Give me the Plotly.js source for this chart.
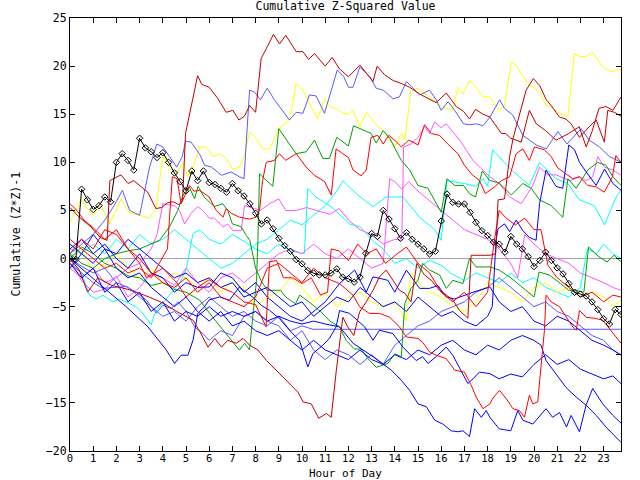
<!DOCTYPE html>
<html>
<head>
<meta charset="utf-8">
<script src="https://cdn.plot.ly/plotly-3.0.1.min.js"></script>
<style>html,body{margin:0;padding:0;background:#fff;}#chart{width:640px;height:480px;}</style>
</head>
<body>
<div id="chart"></div>
<script>
// ---- data: [hour, cumulative value] ----
const blackHours = [0,0.25,0.5,0.75,1,1.25,1.5,1.75,2,2.25,2.5,2.75,3,3.25,3.5,3.75,4,4.25,4.5,4.75,5,5.25,5.5,5.75,6,6.25,6.5,6.75,7,7.25,7.5,7.75,8,8.25,8.5,8.75,9,9.25,9.5,9.75,10,10.25,10.5,10.75,11,11.25,11.5,11.75,12,12.25,12.5,12.75,13,13.25,13.5,13.75,14,14.25,14.5,14.75,15,15.25,15.5,15.75,16,16.25,16.5,16.75,17,17.25,17.5,17.75,18,18.25,18.5,18.75,19,19.25,19.5,19.75,20,20.25,20.5,20.75,21,21.25,21.5,21.75,22,22.25,22.5,22.75,23,23.25,23.5,23.75];
const blackValues = [0,-0.1,7.2,6.1,5.1,5.5,6.4,5.9,10.0,10.9,10.2,9.2,12.5,11.5,11.1,10.5,11.0,10.0,8.9,8.0,7.05,9.1,8.1,9.1,7.9,7.7,7.3,6.9,7.8,7.05,6.5,5.7,4.7,3.6,4.0,3.1,2.1,1.35,0.76,-0.1,-0.55,-1.24,-1.52,-1.7,-1.7,-1.52,-1.07,-1.93,-2.1,-2.45,-1.93,0.55,2.6,2.3,5.0,4.1,3.1,2.1,2.7,2.0,1.5,1.0,0.48,0.76,3.9,6.7,5.84,5.67,5.67,4.8,3.76,2.9,2.4,1.7,1.5,0.66,2.3,1.5,1.0,0.2,-0.83,-0.2,0.66,-0.2,-0.97,-1.6,-2.6,-3.5,-3.7,-3.9,-4.5,-5.3,-6.25,-6.8,-5.3,-5.8];

const darkRedA = [[0,5.3],[0.4,4.3],[0.9,3.3],[1.3,2.2],[1.6,1.9],[1.72,8.1],[2.2,8.7],[2.5,7.8],[2.75,8.1],[3.0,7.6],[3.35,6.9],[3.7,5.2],[3.95,5.3],[4.2,5.8],[4.45,5.9],[4.7,5.6],[4.85,6.0],[4.98,13.0],[5.2,15.4],[5.5,19.0],[5.68,18.1],[6.0,17.8],[6.38,16.6],[6.73,15.2],[7.02,15.4],[7.28,14.4],[7.52,14.8],[7.74,15.9],[8.0,15.2],[8.24,20.8],[8.46,21.8],[8.77,23.3],[9.03,22.3],[9.3,23.2],[9.75,21.5],[10.04,21.5],[10.28,20.7],[10.54,21.3],[11.0,20.0],[11.3,20.9],[11.62,19.7],[12.0,18.9],[12.5,20.1],[13.06,18.4],[13.24,20.0],[13.56,19.1],[13.93,18.5],[14.28,18.2],[14.64,17.8],[15.07,17.1],[15.78,16.2],[16.22,17.2],[16.65,15.8],[16.96,15.3],[17.22,14.5],[17.48,15.5],[17.8,15.0],[18.1,14.7],[18.3,14.0],[18.6,13.0],[18.78,13.0],[19.0,12.5],[19.45,12.1],[19.8,15.4],[20.1,14.0],[20.5,13.3],[20.95,12.3],[21.5,13.0],[21.95,13.7],[22.25,11.6],[22.5,13.2],[22.8,15.6],[23.1,15.8],[23.4,15.4],[23.75,16.8]];
const darkRedB = [[0,0],[0.4,-1.2],[0.76,-3.5],[1.2,-2.0],[1.8,-2.8],[2.5,-3.2],[3.2,-3.8],[4.0,-4.6],[4.6,-5.5],[5.3,-6.4],[5.6,-7.6],[5.95,-9.2],[6.24,-8.3],[6.53,-9.2],[6.8,-8.5],[7.17,-8.8],[7.46,-8.3],[7.74,-9.0],[8.1,-9.5],[8.47,-10.6],[9.05,-12.0],[9.48,-13.0],[9.83,-13.9],[10.05,-14.9],[10.4,-15.1],[10.72,-16.6],[11.05,-16.1],[11.26,-16.5],[11.48,-11.6],[11.76,-6.1],[11.97,-7.1],[12.23,-8.0],[12.48,-5.55],[12.77,-4.5],[13.06,-3.3],[13.34,-1.9],[13.63,-1.2],[13.92,-2.26],[14.2,-3.3],[14.43,-3.6],[14.7,-4.5],[14.95,-0.5],[15.28,-1.7],[15.57,-2.26],[15.93,-3.3],[16.22,-3.8],[16.5,-4.3],[16.79,-5.4],[17.15,-6.2],[17.29,0.34],[17.5,0.34],[18.1,0.34],[18.35,0.5],[18.45,6.1],[18.73,6.2],[18.95,10.6],[19.1,12.5],[19.66,17.5],[19.97,18.7],[20.24,18.0],[20.53,16.5],[20.74,15.9],[21.1,14.7],[21.38,14.5],[21.6,14.0],[21.96,12.6],[22.38,13.7],[22.68,14.4],[23.03,12.1],[23.18,15.4],[23.46,15.2],[23.75,14.8]];
const periwinkleA = [[0,0.5],[0.5,1.5],[1.0,2.5],[1.5,4.0],[1.9,5.5],[2.26,7.1],[2.57,5.0],[3.0,4.5],[3.2,6.75],[3.43,9.5],[3.74,11.9],[4.0,11.6],[4.29,10.6],[4.6,9.5],[4.84,10.6],[4.98,12.2],[5.22,12.1],[5.6,10.8],[5.8,9.7],[6.1,9.5],[6.53,8.65],[6.95,9.0],[7.3,8.5],[7.5,8.3],[7.74,17.5],[7.95,17.3],[8.21,16.5],[8.5,17.7],[8.81,16.5],[9.17,15.4],[9.46,14.4],[9.75,15.2],[10.04,15.1],[10.32,17.0],[10.61,16.9],[10.97,15.1],[11.52,19.6],[11.8,18.9],[12.0,17.8],[12.2,17.8],[12.49,19.9],[12.92,18.9],[13.2,17.7],[13.5,17.5],[13.93,16.6],[14.2,16.8],[14.5,18.4],[14.71,17.9],[15.07,17.0],[15.5,17.5],[15.78,16.5],[16.0,15.4],[16.3,16.3],[16.58,15.4],[16.96,14.0],[17.22,13.9],[17.51,14.0],[17.8,13.8],[18.1,14.7],[18.52,16.5],[18.73,15.6],[19.09,14.9],[19.52,12.8],[20.1,11.8],[20.53,11.4],[21.03,13.2],[21.42,11.9],[22.03,13.5],[22.38,12.3],[22.82,11.6],[23.25,10.6],[23.75,10.0]];
const yellowA = [[0,3.8],[0.48,6.2],[0.69,5.4],[0.98,4.5],[1.35,5.5],[1.7,3.6],[1.92,4.7],[2.2,6.2],[2.57,4.7],[3.0,4.5],[3.43,4.2],[3.71,5.2],[4.0,10.6],[4.26,9.5],[4.58,8.8],[4.87,10.0],[5.08,8.5],[5.29,9.3],[5.58,11.6],[5.87,11.6],[6.16,10.6],[6.45,10.9],[6.73,10.4],[7.02,9.3],[7.3,9.5],[7.52,10.7],[7.74,13.2],[8.02,12.5],[8.31,11.4],[8.6,11.4],[9.0,13.5],[9.47,14.4],[9.75,18.2],[10.04,17.5],[10.32,16.1],[10.68,14.5],[10.97,16.6],[11.18,15.8],[11.47,15.6],[11.76,15.1],[12.0,15.0],[12.2,15.4],[12.5,13.7],[12.77,15.2],[13.2,13.9],[13.5,13.3],[14.0,11.6],[14.28,13.0],[14.43,12.3],[14.7,17.5],[15.0,17.7],[15.35,17.0],[15.78,16.2],[16.07,15.8],[16.5,15.4],[16.72,17.8],[16.94,17.1],[17.22,18.5],[17.51,17.8],[17.8,16.8],[18.1,16.8],[18.5,15.4],[18.72,15.8],[19.02,20.4],[19.23,20.1],[19.52,19.0],[19.8,18.0],[20.02,17.8],[20.3,17.0],[20.52,15.9],[20.73,15.8],[21.1,15.1],[21.46,14.7],[21.74,21.3],[21.96,21.0],[22.25,21.0],[22.5,21.5],[22.97,19.9],[23.33,19.4],[23.75,19.7]];
const greenA = [[0,0],[0.5,1.2],[1.0,0.5],[1.5,-0.5],[2.0,-1.0],[2.5,-1.8],[3.0,-2.0],[3.5,-2.8],[4.0,-2.5],[4.5,-3.2],[5.0,-3.5],[5.58,-4.3],[6.15,-6.1],[6.6,-7.45],[6.95,-8.5],[7.3,-9.5],[7.53,-8.8],[7.74,-9.5],[7.9,-5.5],[8.04,-2.26],[8.1,1.9],[8.17,8.8],[8.74,7.5],[9.0,13.5],[9.4,12.1],[9.75,10.9],[10.18,11.1],[10.54,12.3],[10.9,10.4],[11.18,10.4],[11.5,12.6],[11.75,12.1],[12.0,11.7],[12.22,13.8],[12.52,13.5],[12.98,13.0],[13.2,12.0],[13.5,13.3],[13.78,12.5],[14.28,10.2],[14.64,9.2],[15.0,7.6],[15.43,7.3],[15.72,6.0],[16.0,4.8],[16.25,8.3],[16.58,7.6],[16.96,7.6],[17.22,6.75],[17.48,6.4],[17.77,9.1],[18.1,8.1],[18.5,7.85],[19.02,6.6],[19.52,7.8],[19.88,7.3],[20.24,6.1],[20.74,5.5],[21.24,4.3],[21.46,8.3],[21.82,7.3],[22.32,9.2],[22.74,10.0],[23.1,9.7],[23.4,8.5],[23.75,7.6]];
const greenB = [[0,0.5],[0.5,-0.5],[1.0,-1.0],[1.5,0.0],[2.0,0.5],[2.5,0.8],[3.0,1.0],[3.5,1.5],[3.86,1.9],[4.29,3.3],[4.65,5.0],[4.87,6.6],[5.15,7.4],[5.37,6.2],[5.52,7.5],[5.78,6.4],[6.22,5.4],[6.58,5.7],[6.8,5.0],[7.0,3.6],[7.38,3.3],[7.6,2.4],[7.75,1.9],[8.0,-1.0],[8.24,-2.3],[8.5,-3.3],[9.07,-3.3],[9.3,-4.0],[9.72,-4.7],[9.9,-3.8],[10.3,-4.5],[10.8,-5.5],[11.2,-6.5],[11.62,-7.1],[11.9,-8.5],[12.26,-9.4],[12.55,-9.4],[12.84,-10.4],[13.2,-11.3],[13.7,-10.9],[14.0,-9.9],[14.28,-10.2],[14.43,-4.7],[14.7,-3.1],[15.0,-2.26],[15.2,-0.5],[15.5,-1.2],[15.93,-1.7],[16.22,-3.1],[16.5,-2.26],[16.94,-2.6],[17.22,0.0],[17.5,-0.87],[18.1,-0.87],[18.5,-1.2],[19.0,-2.0],[19.5,-3.0],[20.0,-4.0],[20.22,-1.4],[20.65,-1.7],[21.15,-2.6],[21.5,-3.3],[21.8,-3.3],[22.15,-3.5],[22.35,1.2],[22.8,0.17],[23.15,-0.35],[23.45,0.34],[23.75,-0.35]];
const redA = [[0,2.0],[0.5,1.0],[1.0,0.0],[1.5,-1.0],[2.0,-0.5],[2.5,-1.5],[3.0,-1.0],[3.5,-2.0],[3.8,-0.7],[4.2,1.0],[4.41,8.5],[4.61,8.3],[4.79,5.7],[5.15,7.6],[5.35,7.0],[5.58,7.1],[6.0,6.4],[6.3,5.0],[6.6,4.3],[6.73,5.2],[6.95,4.7],[7.3,4.3],[7.74,4.1],[8.02,4.3],[8.17,5.0],[8.3,8.1],[8.46,10.0],[8.81,10.2],[9.03,10.9],[9.3,10.2],[9.75,10.9],[10.18,9.5],[10.54,8.65],[10.97,8.0],[11.26,6.6],[11.47,11.4],[11.76,10.9],[12.0,10.5],[12.2,9.2],[12.55,8.6],[12.77,9.2],[12.98,12.6],[13.27,12.8],[13.5,11.9],[13.74,12.8],[14.0,12.3],[14.28,11.6],[14.6,12.3],[14.78,12.1],[15.0,11.8],[15.28,13.9],[15.57,13.0],[15.93,12.8],[16.28,11.9],[16.72,10.9],[17.0,9.7],[17.3,8.8],[17.65,8.1],[17.9,6.75],[18.3,7.45],[18.6,8.1],[18.95,8.5],[19.23,10.9],[19.52,11.4],[19.8,10.2],[20.02,11.6],[20.45,11.3],[20.74,10.6],[21.03,9.4],[21.38,8.8],[21.67,8.3],[21.96,8.5],[22.32,7.6],[22.68,7.45],[23.03,6.9],[23.38,8.5],[23.53,10.7],[23.75,10.0]];
const redB = [[0,0.5],[0.5,2.0],[1.0,1.0],[1.5,3.0],[2.0,2.5],[2.5,1.0],[3.0,0.0],[3.5,-1.5],[4.0,-2.5],[4.5,-3.0],[5.0,-2.0],[5.5,-3.5],[6.0,-2.5],[6.5,-4.0],[7.0,-4.5],[7.5,-5.0],[8.0,-4.0],[8.5,-1.0],[9.0,-0.5],[9.5,-1.5],[10.0,-2.5],[10.5,-1.0],[11.0,-2.0],[11.62,-2.6],[12.2,-3.8],[12.48,-5.0],[12.9,-5.7],[13.34,-5.7],[13.78,-6.1],[14.2,-7.1],[14.5,-8.15],[15.0,-8.3],[15.2,-8.7],[15.5,-9.7],[15.78,-10.05],[16.22,-10.4],[16.58,-11.6],[17.0,-11.8],[17.3,-13.2],[17.51,-14.4],[17.8,-15.6],[18.1,-15.1],[18.22,-14.55],[18.51,-13.7],[18.8,-14.55],[19.09,-15.6],[19.37,-15.8],[19.59,-16.5],[19.8,-14.2],[19.95,-15.1],[20.16,-14.9],[20.3,-11.26],[20.45,-7.45],[20.52,-3.8],[20.74,-4.5],[21.1,-5.0],[21.38,-6.1],[21.67,-7.1],[21.82,-7.45],[21.96,-5.4],[22.25,-6.1],[22.6,-6.2],[22.96,-6.4],[23.32,-7.45],[23.75,-8.8]];
const redC = [[0,5.7],[0.3,5.0],[0.6,4.0],[1.0,3.2],[1.5,2.0],[2.0,3.0],[2.5,1.0],[3.0,-0.5],[3.3,-2.0],[4.0,-1.0],[4.6,-2.5],[5.0,-4.0],[5.5,-3.0],[6.0,-2.2],[6.5,-3.0],[7.0,-3.5],[7.5,-4.5],[8.0,-4.8],[8.45,-7.1],[8.6,-0.35],[8.9,-0.2],[9.2,-2.0],[9.6,-2.0],[10.0,-2.6],[10.4,-2.0],[10.8,-3.8],[11.1,-3.5],[11.26,1.0],[11.6,0.8],[12.0,-0.2],[12.4,1.5],[12.8,0.5],[13.2,1.0],[13.6,-0.5],[14.0,0.3],[14.5,1.2],[15.0,-0.5],[15.5,-1.5],[16.0,-3.5],[16.5,-4.5],[17.0,-3.5],[17.5,-5.0],[18.0,-3.5],[18.3,2.0],[18.5,5.0],[18.8,4.2],[19.2,3.5],[19.6,4.2],[20.0,3.0],[20.3,3.0],[20.6,-0.7],[21.0,-2.0],[21.5,-3.0],[22.0,-4.0],[22.5,-3.5],[23.0,-4.5],[23.4,-3.8],[23.75,-4.0]];
const magentaA = [[0,-1.0],[0.5,-2.0],[1.0,-1.0],[1.5,-2.5],[2.0,-2.0],[2.5,-1.0],[3.0,-0.5],[3.5,1.0],[3.75,2.5],[4.0,5.7],[4.5,5.5],[4.72,5.0],[4.94,3.6],[5.22,4.7],[5.5,5.4],[5.72,5.0],[6.0,4.2],[6.22,4.2],[6.6,3.3],[6.8,3.6],[7.02,2.9],[7.38,2.9],[7.52,5.5],[7.88,5.2],[8.2,5.0],[8.6,5.7],[9.0,6.2],[9.3,5.0],[9.75,5.0],[10.2,5.3],[10.6,5.0],[11.2,4.6],[11.6,5.2],[12.0,4.0],[12.5,3.0],[13.0,2.5],[13.5,1.5],[14.0,2.0],[14.3,1.9],[14.38,11.6],[14.7,11.9],[15.0,12.6],[15.28,13.7],[15.5,13.0],[15.72,14.2],[16.0,13.6],[16.22,14.0],[16.5,13.2],[16.8,12.3],[17.1,11.2],[17.37,10.2],[17.7,9.4],[18.1,8.5],[18.5,7.8],[18.95,6.4],[19.45,5.7],[19.95,7.6],[20.24,9.5],[20.6,8.7],[20.95,8.7],[21.53,8.1],[21.96,8.5],[22.25,8.1],[22.53,8.5],[22.75,10.6],[23.03,9.5],[23.4,9.2],[23.75,8.66]];
const magentaB = [[0,0],[0.5,-2.3],[1.0,-3.5],[1.5,-3.2],[2.0,-1.8],[2.5,-4.0],[3.0,-3.0],[3.5,-1.5],[4.0,-2.0],[4.5,-2.8],[5.0,-1.0],[5.5,-2.5],[6.0,-3.5],[6.5,-2.0],[7.0,-1.5],[7.5,-2.5],[8.0,-1.5],[8.5,-0.5],[9.0,0.5],[9.5,1.0],[10.0,0.5],[10.5,1.5],[11.0,0.5],[11.5,0.0],[12.0,1.0],[12.5,0.0],[13.0,-1.0],[13.5,-0.5],[13.78,8.3],[14.0,8.0],[14.3,7.2],[14.6,8.0],[15.0,7.0],[15.5,6.0],[16.0,5.0],[16.5,4.0],[17.0,3.0],[17.5,2.5],[18.0,2.0],[18.5,1.0],[19.0,-0.5],[19.3,-2.0],[19.6,2.5],[20.0,1.5],[20.5,0.5],[21.0,0.0],[21.5,-0.5],[22.0,-1.5],[22.5,-2.0],[23.0,-2.5],[23.4,-3.0],[23.75,-3.3]];
const cyanA = [[0,0],[0.5,-1.5],[0.84,-3.8],[1.13,-4.2],[1.42,-3.8],[1.7,-4.2],[1.85,-4.5],[2.14,-4.2],[2.42,-4.5],[2.85,-5.0],[3.14,-5.7],[3.5,-6.9],[3.65,-5.7],[3.86,-5.0],[4.29,-3.8],[4.72,-2.6],[5.0,-1.2],[5.3,2.6],[5.6,3.0],[6.0,2.0],[6.5,1.5],[7.0,2.5],[7.5,1.8],[8.0,1.0],[8.5,0.5],[9.0,1.5],[9.5,0.8],[10.1,0.5],[10.25,7.3],[10.6,6.4],[11.25,5.4],[11.78,4.2],[12.05,3.6],[12.5,3.3],[13.0,2.0],[13.5,1.0],[14.0,-0.5],[14.5,0.0],[15.0,-1.0],[15.5,-0.2],[16.0,-0.7],[16.4,-1.5],[17.0,-2.3],[17.5,-1.5],[18.0,-2.0],[18.5,-2.5],[19.0,-1.5],[19.5,-2.5],[20.0,-2.0],[20.5,-3.0],[21.0,-3.5],[21.5,-4.0],[22.0,-3.0],[22.3,1.0],[22.7,0.5],[23.0,1.5],[23.4,0.5],[23.75,0.0]];
const cyanB = [[0,1.0],[0.5,0.5],[1.0,1.5],[1.5,0.5],[2.0,2.0],[2.5,1.0],[3.0,2.5],[3.5,1.5],[4.0,2.0],[4.5,3.0],[5.0,2.0],[5.5,1.0],[6.0,0.0],[6.5,-1.0],[7.0,-0.5],[7.5,0.5],[8.0,1.5],[8.5,2.0],[9.0,3.0],[9.5,4.0],[10.0,3.5],[10.5,4.5],[11.0,5.5],[11.5,7.0],[11.76,8.1],[12.41,6.6],[13.06,5.4],[13.63,6.4],[14.35,6.4],[15.07,4.3],[15.72,3.0],[16.0,1.9],[16.25,8.1],[17.0,7.8],[17.5,7.5],[17.8,8.3],[18.0,7.5],[18.22,11.3],[18.94,9.4],[19.8,7.6],[20.24,10.0],[20.95,8.3],[21.46,7.8],[21.96,6.1],[22.6,5.5],[23.04,3.5],[23.54,6.4],[23.75,7.1]];
const yellowB = [[0,-0.5],[0.5,1.0],[1.0,-1.5],[1.5,-0.5],[2.0,0.5],[2.5,-1.0],[3.0,-2.0],[3.5,-1.0],[4.0,-2.5],[4.5,-1.5],[5.0,-2.0],[5.5,-3.0],[6.0,-2.0],[6.5,-3.5],[7.0,-2.5],[7.5,-3.0],[8.0,-5.0],[8.5,-4.0],[9.0,-3.5],[9.5,-2.0],[10.0,-3.0],[10.5,-4.5],[11.0,-3.5],[11.5,-5.0],[12.0,-4.0],[12.5,-3.5],[13.0,-4.5],[13.5,-5.0],[14.0,-4.5],[14.5,-6.5],[14.7,-1.5],[15.0,-2.5],[15.5,-3.5],[16.0,-4.0],[16.5,-5.0],[17.0,-5.5],[17.5,-4.5],[18.0,-2.5],[18.5,-3.0],[19.0,-3.5],[19.5,-4.5],[20.0,-3.0],[20.5,-2.5],[21.0,-3.5],[21.5,-3.0],[22.0,-4.0],[22.5,-3.5],[23.0,-4.0],[23.4,-5.0],[23.75,-4.3]];
const periwinkleB = [[0,-0.5],[0.5,-1.5],[1.0,-2.5],[1.42,-3.1],[2.42,-2.9],[2.85,-3.5],[3.29,-4.3],[3.72,-5.7],[4.0,-4.85],[4.36,-5.2],[4.65,-4.5],[5.01,-5.5],[5.37,-7.1],[5.73,-7.8],[6.0,-8.5],[6.5,-7.5],[7.0,-8.0],[7.5,-6.0],[8.0,-5.5],[8.5,-6.5],[9.0,-7.0],[9.5,-8.5],[10.0,-7.5],[10.5,-9.5],[11.0,-10.5],[11.5,-9.5],[12.0,-10.0],[12.5,-11.0],[13.0,-10.0],[13.5,-11.0],[14.0,-9.0],[14.5,-8.0],[15.0,-7.0],[15.5,-6.5],[16.0,-5.5],[16.5,-5.0],[17.0,-4.5],[17.5,-3.5],[18.0,-3.0],[18.5,-2.0],[19.0,-3.0],[19.5,-4.0],[20.0,-5.0],[20.5,-4.5],[21.0,-5.5],[21.5,-6.0],[22.0,-7.0],[22.5,-8.0],[23.0,-8.5],[23.4,-9.5],[23.75,-10.0]];
const periwinkleC = [[0,0],[0.5,-0.8],[1.0,-1.5],[1.5,-1.0],[2.0,-2.5],[2.5,-3.0],[3.0,-4.0],[3.5,-5.0],[4.0,-6.0],[4.5,-5.5],[5.0,-6.5],[5.5,-5.0],[6.0,-4.0],[6.5,-5.0],[7.0,-6.0],[7.5,-5.5],[8.0,-6.5],[8.5,-7.0],[9.0,-6.0],[9.5,-7.5],[10.0,-7.0],[10.47,-7.35],[23.75,-7.35]];
const blueA = [[0,0],[0.41,-0.87],[1.42,-2.95],[2.42,-5.0],[3.36,-7.1],[4.15,-9.5],[4.51,-10.9],[4.79,-10.05],[5.08,-10.05],[5.3,-8.5],[5.51,-5.7],[5.8,-5.0],[6.0,-4.3],[6.44,-3.99],[6.87,-4.33],[7.3,-2.95],[7.6,-3.47],[7.95,-4.16],[8.24,-4.85],[8.6,-5.38],[9.03,-6.24],[9.46,-7.45],[9.89,-8.5],[10.25,-11.26],[10.47,-9.88],[10.9,-9.0],[11.18,-8.3],[11.47,-7.1],[11.62,-5.4],[12.05,-5.7],[12.7,-7.1],[13.06,-8.5],[13.34,-7.45],[13.92,-7.8],[14.35,-9.2],[14.92,-10.6],[15.2,-10.2],[15.43,-10.9],[15.78,-10.2],[16.22,-9.2],[16.5,-10.05],[16.86,-11.6],[17.15,-13.0],[17.37,-12.5],[17.65,-11.8],[18.1,-11.96],[18.5,-12.5],[19.0,-12.0],[19.5,-12.3],[20.0,-11.0],[20.5,-10.0],[21.0,-11.0],[21.5,-10.5],[22.0,-11.5],[22.5,-12.0],[23.0,-12.5],[23.4,-12.2],[23.75,-13.0]];
const blueB = [[0,1.0],[0.5,2.0],[1.0,0.5],[1.5,1.5],[2.0,0.0],[2.5,-1.0],[3.0,0.5],[3.5,-1.5],[4.0,-2.0],[4.5,-3.5],[5.0,-2.5],[5.5,-3.0],[6.0,-2.95],[6.5,-1.5],[7.0,-2.0],[7.5,-3.5],[8.0,-2.5],[8.5,-4.0],[9.0,-5.0],[9.5,-6.0],[10.0,-6.5],[10.5,-5.5],[11.0,-4.5],[11.62,-2.6],[12.27,-1.2],[12.77,-3.5],[13.06,-1.9],[13.7,-2.26],[14.0,-3.5],[14.5,-1.2],[15.07,-3.1],[15.5,-3.1],[15.86,-2.8],[16.22,-4.0],[16.58,-4.2],[17.37,-3.5],[18.1,-2.95],[18.5,-4.5],[19.0,-5.5],[19.5,-5.0],[20.0,-6.5],[20.5,-7.0],[21.0,-6.0],[21.5,-6.5],[22.0,-7.5],[22.5,-8.5],[23.0,-9.0],[23.4,-9.5],[23.75,-10.05]];
const blueC = [[0,-0.5],[0.5,-2.0],[1.0,-1.0],[1.5,-3.5],[2.0,-2.5],[2.5,-4.5],[3.0,-3.5],[3.5,-5.5],[4.0,-4.5],[4.5,-6.5],[5.0,-5.5],[5.5,-6.0],[6.0,-5.0],[6.5,-6.0],[7.0,-5.5],[7.5,-6.0],[8.0,-5.5],[8.5,-6.5],[9.0,-6.0],[9.5,-6.5],[10.0,-6.8],[10.5,-6.5],[11.0,-6.8],[11.62,-7.1],[12.2,-8.8],[13.06,-10.2],[13.85,-11.6],[14.28,-12.65],[14.64,-13.7],[15.0,-15.1],[15.36,-15.4],[15.72,-16.8],[16.07,-17.2],[16.43,-17.9],[16.72,-18.0],[16.94,-17.9],[17.22,-18.5],[17.44,-15.6],[17.73,-16.5],[17.94,-15.8],[18.1,-16.5],[18.5,-17.7],[19.0,-17.9],[19.3,-15.8],[19.52,-16.8],[19.95,-17.2],[20.52,-15.6],[20.8,-16.5],[21.1,-16.0],[21.4,-17.5],[21.6,-16.3],[21.96,-18.0],[22.25,-15.2],[22.53,-13.5],[22.96,-15.1],[23.4,-16.3],[23.75,-17.1]];
const blueD = [[0,1.5],[0.5,0.5],[1.0,2.5],[1.5,1.0],[2.0,-1.0],[2.5,-2.0],[3.0,-1.5],[3.5,-3.0],[4.0,-4.0],[4.5,-5.0],[5.0,-4.0],[5.5,-5.5],[6.0,-6.5],[6.5,-5.5],[7.0,-7.0],[7.5,-6.5],[8.0,-7.5],[8.5,-8.0],[9.0,-7.5],[9.5,-8.5],[10.0,-9.5],[10.5,-8.5],[11.0,-9.5],[11.5,-10.0],[12.0,-10.5],[12.5,-9.5],[13.0,-10.5],[13.5,-11.0],[14.0,-10.0],[14.5,-10.5],[15.0,-9.5],[15.5,-10.0],[16.0,-9.0],[16.5,-8.5],[17.0,-9.5],[17.5,-10.0],[18.0,-9.0],[18.5,-9.5],[19.0,-8.5],[19.5,-8.0],[20.0,-8.5],[20.3,-9.0],[20.52,-10.6],[20.95,-12.0],[21.38,-13.4],[21.82,-14.4],[22.25,-15.25],[22.68,-16.3],[23.1,-17.5],[23.75,-19.1]];
const blueE = [[0,-1.0],[0.5,0.5],[1.0,-0.5],[1.5,1.0],[2.0,0.5],[2.5,2.0],[3.0,1.0],[3.5,0.0],[4.0,-1.0],[4.5,-2.0],[5.0,-1.5],[5.5,-2.5],[6.0,-2.0],[6.5,-3.0],[7.0,-2.5],[7.5,-4.0],[8.0,-3.5],[8.5,-3.0],[9.0,-4.0],[9.5,-5.0],[10.0,-4.5],[10.5,-6.0],[11.0,-5.0],[11.5,-4.0],[12.0,-4.5],[12.5,-3.0],[13.0,-4.0],[13.5,-5.0],[14.0,-4.5],[14.5,-5.5],[15.0,-4.0],[15.5,-5.0],[16.0,-6.0],[16.5,-5.5],[17.0,-6.5],[17.5,-7.0],[18.0,-6.0],[18.2,-5.0],[18.37,2.0],[18.45,3.1],[18.73,3.6],[18.95,2.8],[19.23,4.0],[19.52,2.9],[19.8,2.2],[20.09,1.9],[20.24,5.7],[20.52,9.2],[20.95,7.5],[21.24,7.3],[21.5,11.8],[21.75,11.3],[21.96,10.0],[22.25,9.0],[22.68,7.6],[23.04,9.3],[23.4,7.8],[23.75,7.1]];
const zeroRef = [[0,0],[23.75,0]];

const seriesList = [
  {data: zeroRef, color: '#a0a0a0'},
  {data: cyanA, color: '#00ffff'},
  {data: cyanB, color: '#00ffff'},
  {data: yellowB, color: '#ffff00'},
  {data: yellowA, color: '#ffff00'},
  {data: magentaA, color: '#ff55ff'},
  {data: magentaB, color: '#ff55ff'},
  {data: greenA, color: '#00a000'},
  {data: greenB, color: '#00a000'},
  {data: periwinkleA, color: '#5a5aff'},
  {data: periwinkleB, color: '#5a5aff'},
  {data: periwinkleC, color: '#5a5aff'},
  {data: blueA, color: '#0000ff'},
  {data: blueB, color: '#0000ff'},
  {data: blueC, color: '#0000ff'},
  {data: blueD, color: '#0000ff'},
  {data: blueE, color: '#0000ff'},
  {data: redA, color: '#ff0000'},
  {data: redB, color: '#ff0000'},
  {data: redC, color: '#ff0000'},
  {data: darkRedA, color: '#c00000'},
  {data: darkRedB, color: '#c00000'}
];

const traces = seriesList.map(s => ({
  type: 'scatter', mode: 'lines',
  x: s.data.map(p => p[0]), y: s.data.map(p => p[1]),
  line: {color: s.color, width: 1}, hoverinfo: 'skip'
}));
traces.push({
  type: 'scatter', mode: 'lines+markers',
  x: blackHours, y: blackValues,
  line: {color: '#000000', width: 1},
  marker: {symbol: 'diamond-open', size: 5, color: '#000000', line: {width: 1, color: '#000000'}},
  hoverinfo: 'skip'
});

const fontMono = {family: 'DejaVu Sans Mono, monospace', size: 11.5, color: '#000'};
const fontSmall = {family: 'DejaVu Sans Mono, monospace', size: 11, color: '#000'};
const fontTick = {family: 'DejaVu Sans Mono, monospace', size: 10.5, color: '#000'};
const layout = {
  width: 640, height: 480,
  margin: {l: 70, r: 19, t: 18, b: 29, autoexpand: false},
  paper_bgcolor: '#ffffff', plot_bgcolor: '#ffffff',
  showlegend: false,
  font: fontMono,
  title: {text: 'Cumulative Z-Squared Value', font: fontMono, x: 0.5, xref: 'paper', y: 0.988, yref: 'container', yanchor: 'middle'},
  xaxis: {
    range: [0, 23.75], tickmode: 'linear', tick0: 0, dtick: 1,
    ticks: 'inside', ticklen: 5, tickcolor: '#000', mirror: 'ticks',
    showline: true, linecolor: '#000', linewidth: 1,
    showgrid: false, zeroline: false, automargin: false,
    tickfont: fontTick, ticklabelstandoff: -3,
    title: {text: '', font: fontMono}
  },
  yaxis: {
    range: [-20, 25], tickmode: 'linear', tick0: -20, dtick: 5,
    ticks: 'inside', ticklen: 5, tickcolor: '#000', mirror: 'ticks',
    showline: true, linecolor: '#000', linewidth: 1,
    showgrid: false, zeroline: false, automargin: false,
    tickfont: fontMono,
    title: {text: '', font: fontMono}
  },
  annotations: [
    {
      text: 'Cumulative (Z*Z)-1', font: fontMono, textangle: -90,
      xref: 'paper', yref: 'paper', x: -0.0998, y: 0.5,
      xanchor: 'center', yanchor: 'middle', showarrow: false
    },
    {
      text: 'Hour of Day', font: fontSmall,
      xref: 'paper', yref: 'paper', x: 0.5, y: -0.0518,
      xanchor: 'center', yanchor: 'middle', showarrow: false, borderpad: 0
    }
  ]
};

Plotly.newPlot('chart', traces, layout, {staticPlot: true, displayModeBar: false});
</script>
</body>
</html>
